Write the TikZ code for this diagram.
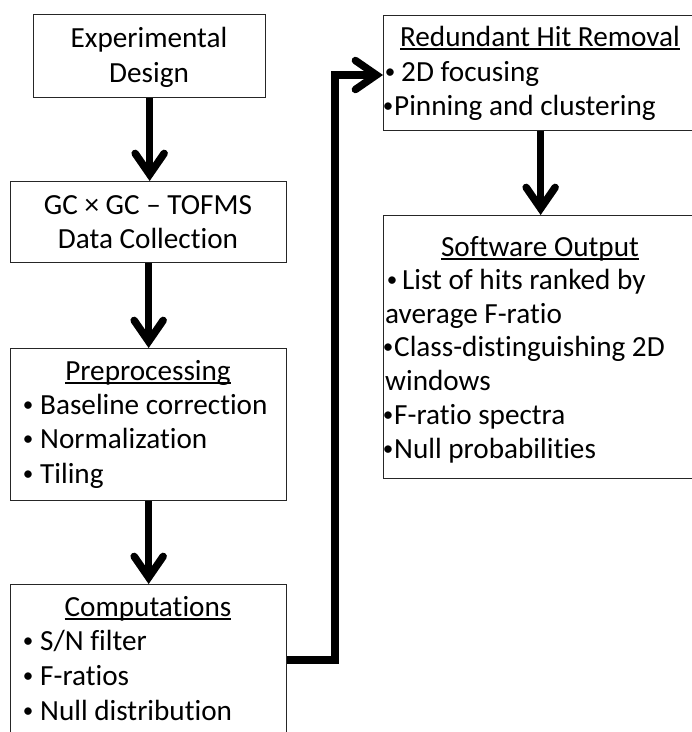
\documentclass[tikz,border=0pt]{standalone}
\usepackage{fontspec}
\setmainfont{Carlito}[Ligatures={NoCommon}]
\usetikzlibrary{arrows.meta}
\newcommand\myul[1]{\setbox0\hbox{#1}\rlap{\rule[-3.6pt]{\wd0}{1.5pt}}\box0}
\newcommand\bul[1]{\llap{\makebox[0pt]{\raisebox{2.6pt}{\scalebox{0.72}{\textbullet}}}\hspace{#1}}}
\tikzset{
  box/.style={draw=black!85, line width=1.3pt, inner sep=0pt, anchor=north west},
  txt/.style={inner sep=0pt, font=\fontsize{29.2}{34.5}\selectfont, text=black},
  lt/.style={txt, anchor=base west},
  ct/.style={txt, anchor=base},
  flow/.style={line width=7.5pt, line join=miter,
    -{Straight Barb[length=21pt, width=29pt, line cap=round, line join=miter]}}
}
\begin{document}
\begin{tikzpicture}[x=1pt, y=-1pt]
\useasboundingbox (0,0) rectangle (692,732);
\clip (0,0) rectangle (692,732);
% boxes
\node[box, minimum width=232pt, minimum height=83pt] (exp) at (33,14) {};
\node[box, minimum width=276pt, minimum height=81pt] (gc) at (10,181) {};
\node[box, minimum width=276pt, minimum height=152pt] (pre) at (10,348) {};
\node[box, minimum width=276pt, minimum height=190pt] (comp) at (10,584) {};
\node[box, minimum width=314pt, minimum height=115pt] (red) at (383,15) {};
\node[box, minimum width=314pt, minimum height=263pt] (sw) at (383,215) {};
% texts
\node[ct] (t1) at (149,47) {Experimental};
\node[ct] (t2) at (149,82) {Design};
\node[ct] (t3) at (148,214) {GC × GC – TOFMS};
\node[ct] (t4) at (148,248) {Data Collection};
\node[ct] (t5) at (148,380) {\myul{Preprocessing}};
\node[lt] (t6) at (40,414) {\bul{12pt}Baseline correction};
\node[lt] (t7) at (40,448) {\bul{12pt}Normalization};
\node[lt] (t8) at (40,483) {\bul{12pt}Tiling};
\node[ct] (t9) at (148,616) {\myul{Computations}};
\node[lt] (t10) at (40,650) {\bul{12pt}S/N filter};
\node[lt] (t11) at (40,685) {\bul{12pt}F-ratios};
\node[lt] (t12) at (40,720) {\bul{12pt}Null distribution};
\node[ct] (t13) at (540,46) {\myul{Redundant Hit Removal}};
\node[lt] (t14) at (401,81) {\bul{11pt}2D focusing};
\node[lt] (t15) at (394,115) {\bul{6pt}Pinning and clustering};
\node[ct] (t16) at (540,256) {\myul{Software Output}};
\node[lt] (t17) at (402,289) {\bul{10pt}List of hits ranked by};
\node[lt] (t18) at (385,323) {average F-ratio};
\node[lt] (t19) at (394,356) {\bul{6pt}Class-distinguishing 2D};
\node[lt] (t20) at (385,390) {windows};
\node[lt] (t21) at (394,424) {\bul{6pt}F-ratio spectra};
\node[lt] (t22) at (394,458) {\bul{6pt}Null probabilities};
% connectors
\coordinate (s) at (286,660);
\coordinate (j) at (335,75);
\draw[flow] (exp.south) -- (exp.south |- gc.north);
\draw[flow] (gc.south) -- (gc.south |- pre.north);
\draw[flow] (pre.south) -- (pre.south |- comp.north);
\draw[flow] (comp.east |- s) -| (j) -- (red.west |- j);
\draw[flow] (red.south) -- (red.south |- sw.north);
\end{tikzpicture}
\end{document}
